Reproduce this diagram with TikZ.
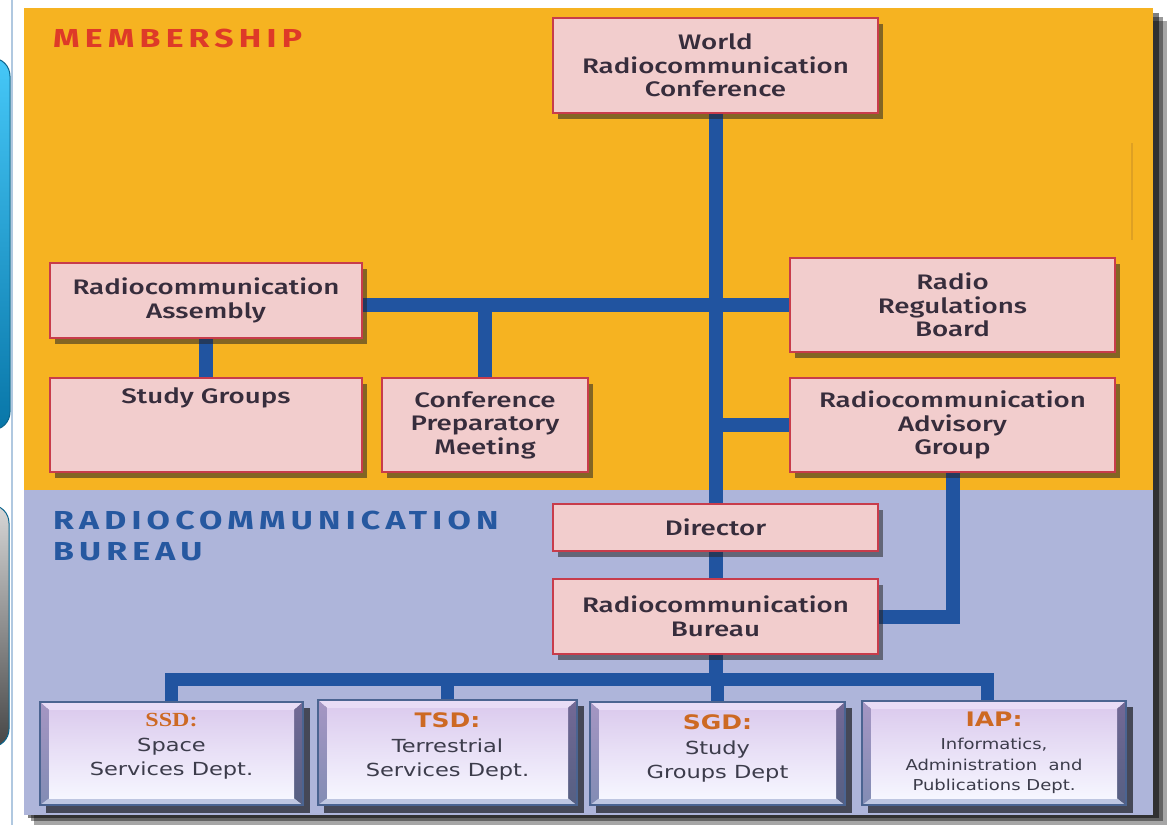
\documentclass[tikz,border=0pt]{standalone}
\usepackage{fontspec}
\usetikzlibrary{shadows}
\newfontfamily\boxfont[FakeStretch=1.32]{Fira Sans Medium}
\newfontfamily\headfont[FakeStretch=1.3,LetterSpace=20]{Fira Sans}
\newfontfamily\verdfont[FakeStretch=1.25]{DejaVu Sans}
\newfontfamily\verdsfont[FakeStretch=1.2]{DejaVu Sans}
\newfontfamily\serfont[FakeStretch=1.2]{Liberation Serif}
\definecolor{orangebg}{RGB}{246,179,33}
\definecolor{lavbg}{RGB}{174,181,218}
\definecolor{memred}{RGB}{222,58,40}
\definecolor{rbblue}{RGB}{38,88,160}
\definecolor{connblue}{RGB}{33,84,160}
\definecolor{pinkfill}{RGB}{242,205,205}
\definecolor{pinkline}{RGB}{200,60,75}
\definecolor{boxtext}{RGB}{55,45,60}
\definecolor{depttext}{RGB}{60,60,75}
\definecolor{deptorange}{RGB}{205,105,35}
\definecolor{faceA}{RGB}{220,204,238}
\definecolor{faceB}{RGB}{246,246,255}
\definecolor{bevT}{RGB}{232,220,246}
\definecolor{bevB}{RGB}{190,198,225}
\definecolor{bevLA}{RGB}{165,150,195}
\definecolor{bevLB}{RGB}{130,140,180}
\definecolor{bevRA}{RGB}{115,105,150}
\definecolor{bevRB}{RGB}{85,95,130}
\definecolor{bevline}{RGB}{75,100,145}
\definecolor{leftline}{RGB}{176,200,224}
\definecolor{cyanA}{RGB}{70,200,248}
\definecolor{cyanB}{RGB}{8,118,168}
\definecolor{cyanline}{RGB}{10,100,140}
\definecolor{grayA}{RGB}{215,215,215}
\definecolor{grayB}{RGB}{70,70,70}
\definecolor{faintline}{RGB}{222,160,35}
\pgfdeclarelayer{panel}
\pgfdeclarelayer{conn}
\pgfsetlayers{panel,conn,main}
\tikzset{
  pbox/.style={draw=pinkline, fill=pinkfill, line width=1.2pt, inner sep=2pt,
    align=center, text=boxtext, font=\boxfont\fontsize{21}{23.5}\selectfont,
    drop shadow={shadow xshift=5pt, shadow yshift=-6pt, opacity=.55, fill=black!85}},
  boxlbl/.style={anchor=north, inner sep=0pt, text=boxtext, font=\boxfont\fontsize{21}{23.5}\selectfont},
  conn/.style={draw=connblue, line width=14pt},
  hdr/.style={anchor=base west, inner sep=0pt, font=\headfont\bfseries\fontsize{26}{30}\selectfont},
  btext/.style={align=center, inner sep=0pt, text=depttext, font=\verdfont\fontsize{18}{24.5}\selectfont},
  bevline/.style={draw=bevline, line width=1.2pt}
}
\newcommand\bevbox[7]{%
  \fill[black,opacity=.6] (#2+6,#3+6) rectangle (#4+7,#5+8);
  \fill[bevT] (#2,#3) -- (#4,#3) -- (#4-9,#3+8) -- (#2+9,#3+8) -- cycle;
  \fill[bevB] (#2,#5) -- (#4,#5) -- (#4-9,#5-7) -- (#2+9,#5-7) -- cycle;
  \shade[top color=bevLA,bottom color=bevLB] (#2,#3) -- (#2+9,#3+8) -- (#2+9,#5-7) -- (#2,#5) -- cycle;
  \shade[top color=bevRA,bottom color=bevRB] (#4,#3) -- (#4-9,#3+8) -- (#4-9,#5-7) -- (#4,#5) -- cycle;
  \shade[top color=faceA,bottom color=faceB] (#2+9,#3+8) rectangle (#4-9,#5-7);
  \draw[bevline] (#2,#3) rectangle (#4,#5);
  \node[inner sep=0pt, minimum width={(#4-#2)*1pt}, minimum height={(#5-#3)*1pt},
    label={[btext,#6]center:{#7}}] (#1) at ({(#2+#4)/2},{(#3+#5)/2}) {};
}
\begin{document}
\begin{tikzpicture}[x=1pt,y=-1pt]
\useasboundingbox (0,0) rectangle (1172,825);
\clip (0,0) rectangle (1172,825);
\begin{pgfonlayer}{panel}
  \fill[white] (0,0) rectangle (1172,825);
  \draw[leftline, line width=2pt] (12,0) -- (12,825);
  \shade[top color=cyanA, bottom color=cyanB, draw=cyanline, line width=1pt, rounded corners=18pt] (-30,58) rectangle (10,430);
  \shade[top color=grayA, bottom color=grayB, draw=cyanline, line width=1pt, rounded corners=18pt] (-30,505) rectangle (9,747);
  \fill[black,opacity=.35] (34,21) rectangle (1167,825);
  \fill[black,opacity=.4] (31,17) rectangle (1163,821);
  \fill[black,opacity=.5] (28,13) rectangle (1159,818);
  \fill[orangebg] (24,8) rectangle (1153,490);
  \fill[lavbg] (24,490) rectangle (1153,815);
  \draw[faintline, line width=1.5pt] (1132,143) -- (1132,240);
\end{pgfonlayer}

\node[hdr, text=memred] (memb) at (53,47) {MEMBERSHIP};
\node[hdr, text=rbblue] (rb1) at (53,529) {RADIOCOMMUNICATION};
\node[hdr, text=rbblue] (rb2) at (53,560) {BUREAU};

\node[pbox, minimum width=325pt, minimum height=95pt] (wrc) at (715.5,65.5) {World\\Radiocommunication\\Conference};
\node[pbox, minimum width=312pt, minimum height=75pt] (ra) at (206,300.5) {Radiocommunication\\Assembly};
\node[pbox, minimum width=325pt, minimum height=94pt] (rrb) at (952.5,305) {Radio\\Regulations\\Board};
\node[pbox, minimum width=312pt, minimum height=94pt, label={[boxlbl,yshift=-10pt]north:Study Groups}] (sg) at (206,425) {};
\node[pbox, minimum width=206pt, minimum height=94pt] (cpm) at (485,425) {Conference\\Preparatory\\Meeting};
\node[pbox, minimum width=325pt, minimum height=94pt] (rag) at (952.5,425) {Radiocommunication\\Advisory\\Group};
\node[pbox, minimum width=325pt, minimum height=47pt] (dir) at (715.5,527.5) {Director};
\node[pbox, minimum width=325pt, minimum height=75pt] (bur) at (715.5,616.5) {Radiocommunication\\Bureau};

\bevbox{ssd}{40}{702}{303}{805}{yshift=7pt}{{\serfont\bfseries\fontsize{20}{22}\selectfont\color{deptorange}SSD:}\\Space\\Services Dept.}
\bevbox{tsd}{318}{700}{577}{805}{yshift=6pt}{{\verdfont\bfseries\fontsize{20}{22}\selectfont\color{deptorange}TSD:}\\Terrestrial\\Services Dept.}
\bevbox{sgd}{590}{702}{845}{805}{yshift=5pt}{{\verdfont\bfseries\fontsize{20}{22}\selectfont\color{deptorange}SGD:}\\Study\\Groups Dept}
\bevbox{iap}{862}{701}{1126}{805}{yshift=0pt, font=\verdsfont\fontsize{15}{20.5}\selectfont}{{\verdfont\bfseries\fontsize{20}{22}\selectfont\color{deptorange}IAP:}\\[3pt]Informatics,\\Administration\ \ and\\Publications Dept.}

\coordinate (busL) at (171.5,679);
\coordinate (busR) at (987,679);

\begin{pgfonlayer}{conn}
  \draw[conn] (wrc.south) -- (dir.north);
  \draw[conn] (dir.south) -- (bur.north);
  \draw[conn] (ra.east |- rrb.west) -- (rrb.west);
  \draw[conn] (cpm.north) -- (cpm.north |- rrb.west);
  \draw[conn] (ra.south) -- (sg.north);
  \draw[conn] (rag.west) -- (rag.west -| wrc.south);
  \draw[conn] (rag.south) |- (bur.east);
  \draw[conn] (bur.south) -- (bur.south |- busL);
  \draw[conn, line width=13pt] (ssd.north) |- (busR) -- (busR |- iap.north);
  \draw[conn, line width=13pt] (tsd.north) -- (tsd.north |- busL);
  \draw[conn, line width=13pt] (sgd.north) -- (sgd.north |- busL);
\end{pgfonlayer}
\end{tikzpicture}
\end{document}
